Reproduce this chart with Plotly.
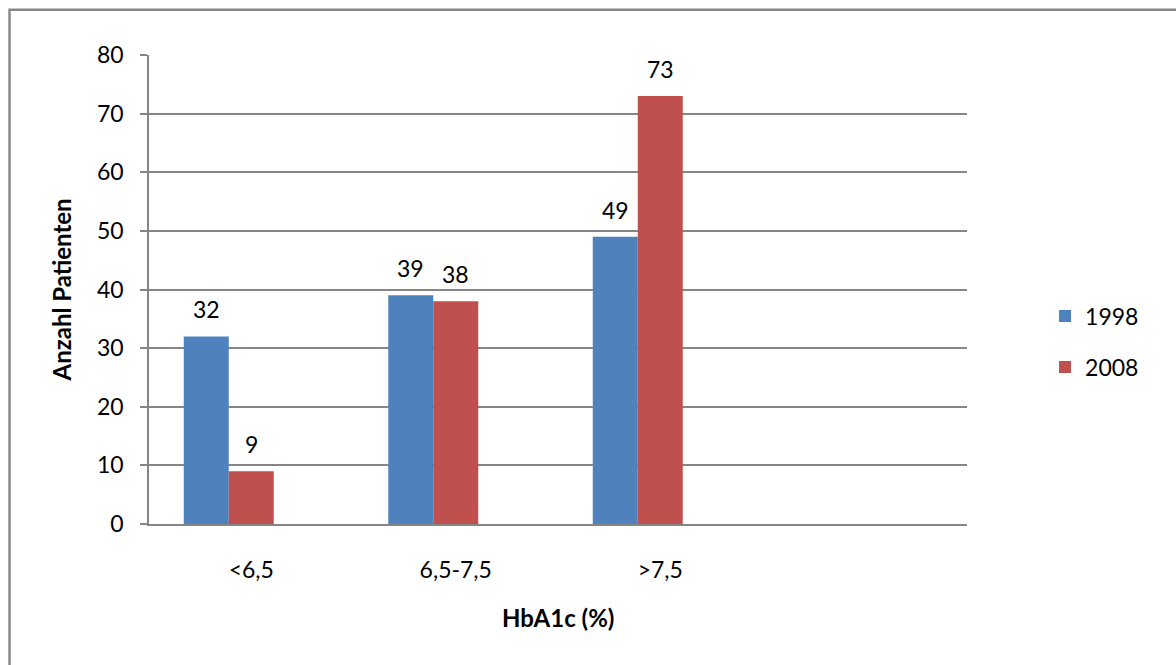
import plotly.graph_objects as go

# HbA1c classes and patient counts per survey year
categories = ["<6,5", "6,5-7,5", ">7,5"]
years = ["1998", "2008"]
counts_1998 = [32, 39, 49]
counts_2008 = [9, 38, 73]

FONT = "Lato"
GRID = "#868686"
colors = {"1998": "#4F81BD", "2008": "#C0504D"}
series = {"1998": counts_1998, "2008": counts_2008}

x_pos = list(range(len(categories)))

fig = go.Figure()
for yr in years:
    fig.add_trace(go.Bar(
        x=x_pos, y=series[yr], name=yr,
        marker=dict(color=colors[yr], line=dict(width=0)),
        legendgroup=yr,
    ))
# empty third slot in each group (keeps the group layout of the sheet)
fig.add_trace(go.Bar(x=x_pos, y=[None] * len(categories), showlegend=False,
                     hoverinfo="skip", marker=dict(opacity=0)))

# value labels above the bars
n_slots = 3
bar_w = (1 - 0.34) / n_slots
for i, yr in enumerate(years):
    for xi, v in zip(x_pos, series[yr]):
        fig.add_annotation(
            x=xi + (i - (n_slots - 1) / 2) * bar_w, y=v, text=str(v),
            showarrow=False, yanchor="bottom", yshift=11,
            font=dict(family=FONT, size=23, color="#000000"),
        )

fig.add_annotation(
    text="<b>Anzahl Patienten</b>", textangle=-90,
    xref="paper", yref="paper", x=-0.1064, y=0.5,
    xanchor="center", yanchor="middle", showarrow=False,
    font=dict(family=FONT, size=24, color="#000000"),
)
fig.add_annotation(
    text="<b>HbA1c (%)</b>",
    xref="paper", yref="paper", x=0.5, y=-0.2004,
    xanchor="center", yanchor="middle", showarrow=False,
    font=dict(family=FONT, size=24, color="#000000"),
)

# outer chart frame
fig.add_shape(type="rect", xref="paper", yref="paper",
              x0=-0.1705, x1=1.4, y0=-0.5, y1=1.0965,
              line=dict(color="#878787", width=2.5), fillcolor="rgba(0,0,0,0)",
              layer="below")

fig.update_layout(
    width=1176, height=665,
    margin=dict(l=149, r=209, t=55, b=141),
    paper_bgcolor="white", plot_bgcolor="white",
    barmode="group", bargap=0.34, bargroupgap=0,
    font=dict(family=FONT, size=23, color="#000000"),
    showlegend=True,
    legend=dict(
        x=1.0954, y=0.389, xanchor="left", yanchor="middle",
        traceorder="grouped", tracegroupgap=18,
        font=dict(family=FONT, size=23, color="#000000"),
        bgcolor="rgba(0,0,0,0)",
    ),
    xaxis=dict(
        range=[-0.5, 3.5], tickvals=x_pos, ticktext=categories,
        showline=True, linecolor=GRID, linewidth=1.5,
        ticks="", showgrid=False, zeroline=False,
        ticklabelstandoff=25,
        tickfont=dict(family=FONT, size=23, color="#000000"),
    ),
    yaxis=dict(
        range=[0, 80], dtick=10, tick0=0,
        showline=True, linecolor=GRID, linewidth=1.5,
        ticks="outside", ticklen=7, tickwidth=1.5, tickcolor=GRID,
        showgrid=True, gridcolor=GRID, gridwidth=1.5, zeroline=False,
        ticklabelstandoff=12,
        tickfont=dict(family=FONT, size=23, color="#000000"),
    ),
)

fig.write_html("out.html")
